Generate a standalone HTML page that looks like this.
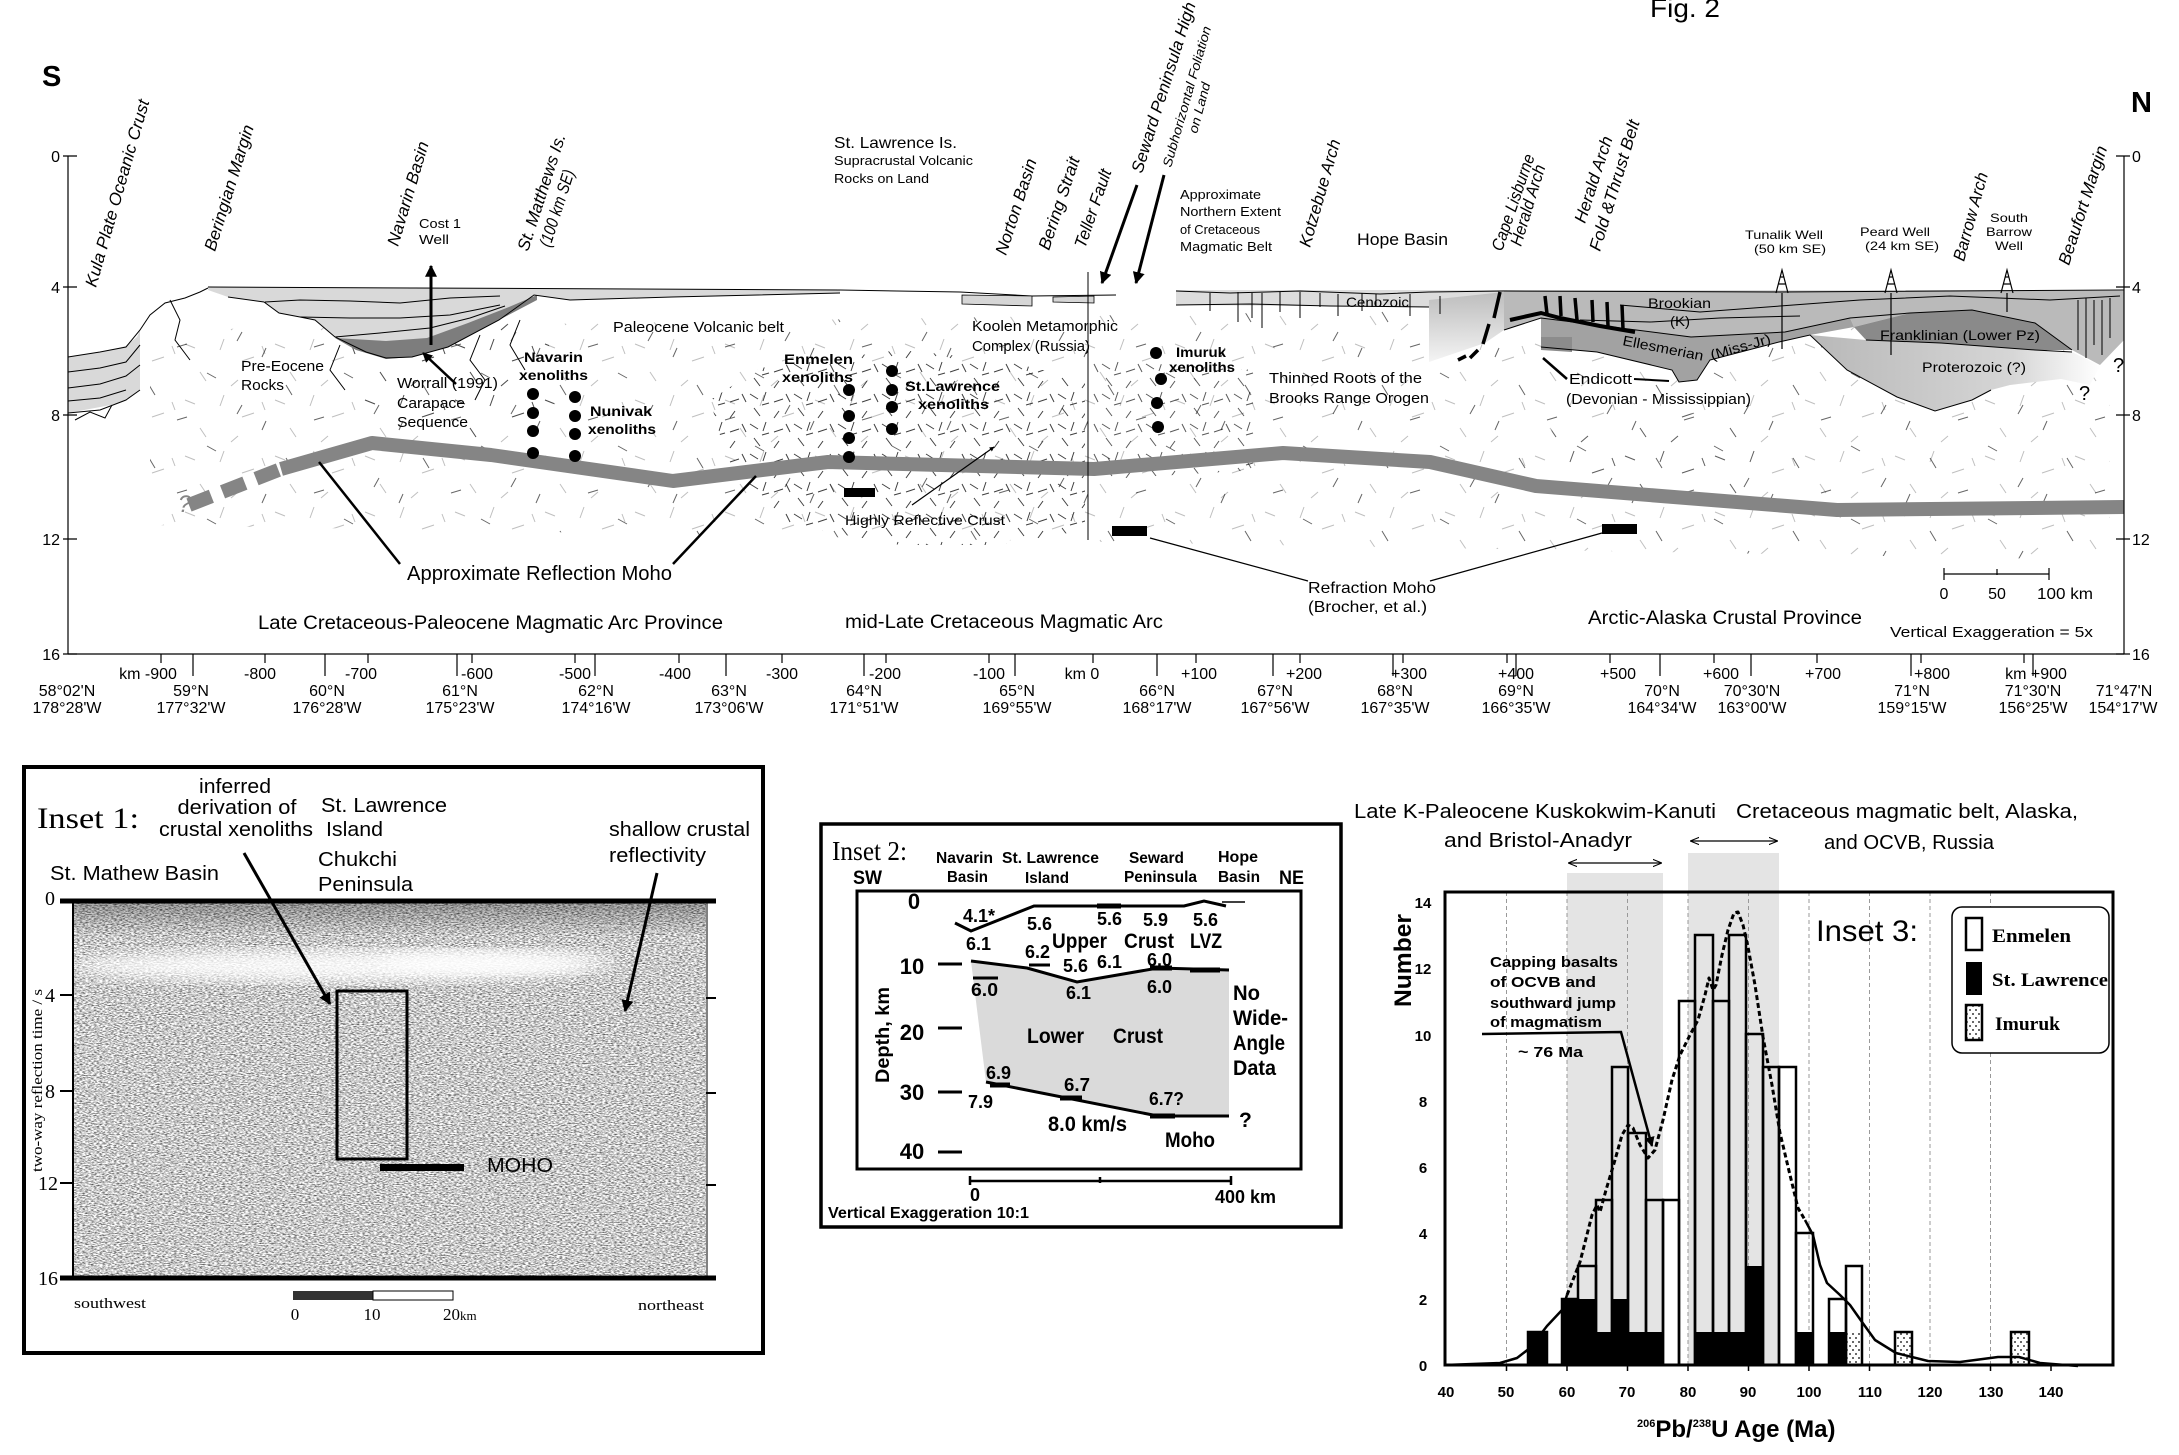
<!DOCTYPE html>
<html><head><meta charset="utf-8"><style>
html,body{margin:0;padding:0;background:#fff;}
svg{display:block;}
.s{font-family:"Liberation Sans",Arial,sans-serif;}
.r{font-family:"Liberation Serif","Times New Roman",serif;}
.b{font-weight:bold;}
.i{font-style:italic;}
</style></head><body>
<svg width="2179" height="1455" viewBox="0 0 2179 1455" xmlns="http://www.w3.org/2000/svg">
<defs>
<marker id="ah" viewBox="0 0 10 10" refX="9" refY="5" markerWidth="4" markerHeight="4" orient="auto"><path d="M0 0L10 5L0 10z" fill="#000"/></marker>
<marker id="oa" viewBox="0 0 10 10" refX="9" refY="5" markerWidth="9" markerHeight="9" markerUnits="userSpaceOnUse" orient="auto-start-reverse"><path d="M0 1L10 5L0 9" fill="none" stroke="#000" stroke-width="1.2"/></marker>
<pattern id="rd" width="44" height="30" patternUnits="userSpaceOnUse"><path d="M2 4l8 5M18 2l-3 9M26 12l9-3M6 18l6 8M31 21l-5 7M38 4l4 8M14 15l7-2" stroke="#000" stroke-width="1" fill="none"/></pattern>
<pattern id="rs" width="90" height="56" patternUnits="userSpaceOnUse"><path d="M5 8l10 4M44 3l-4 11M62 25l12-4M20 36l6 9M58 44l-7 6M82 10l3 8" stroke="#000" stroke-width="1" fill="none"/></pattern>
<pattern id="rs2" width="137" height="73" patternUnits="userSpaceOnUse"><path d="M12 20l6 10M70 8l9 5M105 40l-5 9M40 55l10-3M125 65l4-9" stroke="#000" stroke-width="1" fill="none"/></pattern>
<pattern id="dots" width="6" height="8" patternUnits="userSpaceOnUse"><rect width="6" height="8" fill="#fff"/><circle cx="2" cy="2" r="0.9" fill="#000"/><circle cx="5" cy="6" r="0.9" fill="#000"/></pattern>
<filter id="noise" x="0" y="0" width="1" height="1" color-interpolation-filters="sRGB">
<feTurbulence type="fractalNoise" baseFrequency="0.35 0.9" numOctaves="2" seed="7"/>
<feColorMatrix type="matrix" values="0 0 0 0 0.3  0 0 0 0 0.3  0 0 0 0 0.3  -2.2 0 0 0 1.4"/>
</filter>
<filter id="blur"><feGaussianBlur stdDeviation="8"/></filter>
<linearGradient id="hope" x1="0" y1="0" x2="0" y2="1"><stop offset="0" stop-color="#bdbdbd"/><stop offset="1" stop-color="#f4f4f4"/></linearGradient>
<linearGradient id="prot" x1="0" y1="0" x2="1" y2="0"><stop offset="0" stop-color="#b8b8b8"/><stop offset="0.7" stop-color="#d6d6d6"/><stop offset="1" stop-color="#ffffff"/></linearGradient>
<linearGradient id="topband" x1="0" y1="0" x2="0" y2="1"><stop offset="0" stop-color="#000" stop-opacity="0.3"/><stop offset="1" stop-color="#000" stop-opacity="0"/></linearGradient>
</defs>

<!-- ============ MAIN SECTION ============ -->
<text x="1650" y="17" class="s" font-size="26" textLength="70" lengthAdjust="spacingAndGlyphs">Fig. 2</text>
<text x="42" y="86" class="s b" font-size="29">S</text>
<text x="2131" y="112" class="s b" font-size="29">N</text>

<!-- reflection strokes texture -->
<path d="M150 330 L2110 300 L2110 560 L150 525 Z" fill="url(#rs2)" opacity="0.6"/>
<path d="M150 330 L2110 300 L2110 560 L150 525 Z" fill="url(#rs)" opacity="0.25"/>
<path d="M710 400 L760 368 L900 350 L1000 360 L1085 380 L1085 530 L1000 545 L900 545 L790 525 L730 470 Z" fill="url(#rd)" opacity="0.75"/>
<path d="M1092 360 L1255 370 L1258 470 L1092 480 Z" fill="url(#rd)" opacity="0.65"/>
<path d="M340 340 L540 300 L560 400 L480 450 L360 420 Z" fill="url(#rs)" opacity="0.6"/>
<path d="M1550 420 L1760 410 L1760 500 L1560 490 Z" fill="url(#rs)" opacity="0.5"/>

<!-- Kula oceanic crust -->
<polygon points="68,357 111,350 126,346 137,337 140,330 140,390 126,400 111,405 68,413" fill="#d9d9d9"/>
<g fill="none" stroke="#000" stroke-width="1">
<polyline points="68,357 100,352 126,347 140,330 150,315 165,303 185,298 200,292 208,288"/>
<polyline points="68,372 100,368 126,362 140,345"/>
<polyline points="68,388 100,384 126,376 140,365"/>
<polyline points="68,401 100,398 126,390"/>
<polyline points="68,413 100,410 126,400 140,390"/>
<polyline points="75,420 90,412 105,418 112,405"/>
</g>
<!-- shelf / Navarin basin -->
<polygon points="208,287 840,290 840,293 672,297 570,300 534,295 499,320 448,347 412,357 386,358 366,352 335,337 315,320 300,317 279,313 264,302 228,297 208,290" fill="#d9d9d9"/>
<polygon points="335,338 386,341 427,338 468,323 509,307 537,295 537,300 499,320 448,347 412,357 386,359 356,350" fill="#7d7d7d"/>
<g fill="none" stroke="#000" stroke-width="1">
<polyline points="208,287 840,290 960,292 1032,296 1116,295"/>
<polyline points="228,297 264,302 279,313 300,317 315,320 335,337 366,352 386,358 412,357 448,347 499,320 534,295 570,300 672,297 840,293"/>
<polyline points="265,302 300,300 350,301 400,303 450,298 500,296"/>
<polyline points="300,317 350,318 400,318 450,315 500,305"/>
<polyline points="335,337 380,333 430,328 470,318 505,306"/>
<polyline points="170,300 180,320 175,340 190,360"/>
<polyline points="340,345 330,370 345,390"/>
<polyline points="480,335 470,360 485,380 475,400"/>
<polyline points="520,320 510,345 525,370"/>
</g>
<!-- Norton / Bering basins -->
<polygon points="962,295 1032,296 1032,306 962,304" fill="#d6d6d6" stroke="#000" stroke-width="0.8"/>
<polygon points="1053,297 1094,296 1094,303 1053,302" fill="#d6d6d6" stroke="#000" stroke-width="0.8"/>

<!-- Right: Cenozoic band -->
<polygon points="1176,290 2124,290 2124,306 1429,307 1176,305" fill="#dcdcdc"/>
<polygon points="1429,300 1504,292 1504,330 1485,343 1429,362" fill="url(#hope)"/>
<polygon points="1504,291 2124,291 2124,340 2100,365 2072,350 2035,323 1972,310 1910,313 1854,327 1850,318 1785,332 1691,337 1597,325 1541,318 1504,330" fill="#bababa"/>
<polygon points="1541,318 1597,325 1691,337 1785,332 1850,318 1854,327 1810,335 1779,342 1710,360 1697,380 1679,382 1672,370 1597,352 1541,347" fill="#a2a2a2"/>
<polygon points="1541,337 1572,337 1572,352 1541,350" fill="#8c8c8c"/>
<polygon points="1810,335 1866,340 1941,343 2035,350 2072,352 2100,366 2090,385 2061,379 2010,385 1991,390 1972,400 1935,411 1897,397 1847,370" fill="url(#prot)"/>
<polygon points="1854,327 1910,313 1972,310 2035,323 2072,350 2035,350 1941,343 1866,340" fill="#8a8a8a"/>
<g fill="none" stroke="#000" stroke-width="1">
<polyline points="1176,291 1230,293 1300,291 1380,294 1429,292 1504,291 1780,292 2124,290"/>
<polyline points="1176,305 1250,304 1330,306 1429,307"/>
<polyline points="1504,330 1541,318 1597,325 1691,337 1785,332 1850,318 1910,313 1972,310 2035,323 2072,350"/>
<polyline points="1541,347 1597,352 1672,370 1679,382 1697,380 1710,360 1779,342 1810,335 1847,370 1897,397 1935,411 1972,400 1991,390"/>
<polyline points="1866,340 1941,343 2035,350 2072,352"/>
<polyline points="1620,305 1700,312 1780,306 1860,300 1950,296 2050,300 2120,296"/>
<polyline points="1580,320 1650,322 1720,318 1800,316"/>
<path d="M1210 293v18M1238 292v30M1252 293v25M1262 293v35M1280 292v20M1300 292v26M1320 293v14M1338 294v22M1362 293v18M1376 294v12M1410 294v22M1440 296v18"/>
<path d="M2078 300v50M2086 298v60M2094 300v45M2102 300v55M2110 298v40"/>
</g>
<!-- thrust belt -->
<polyline points="1510,320 1541,313 1560,318 1600,326 1635,332" fill="none" stroke="#000" stroke-width="4"/>
<path d="M1545 296l2 18M1560 296l1 20M1575 298l2 22M1592 300l1 22M1607 302l1 24M1622 305l1 24M1500 292l-6 26M1489 324l-6 20M1478 350l-8 8M1466 356l-8 4" stroke="#000" stroke-width="3.5" fill="none"/>
<!-- wells -->
<g fill="none" stroke="#000" stroke-width="1.2">
<path d="M1776 293L1782 270L1788 293M1778 284h8M1780 277h4M1782 293V349"/>
<path d="M1885 293L1891 270L1897 293M1887 284h8M1889 277h4M1891 293V355"/>
<path d="M2001 293L2007 270L2013 293M2003 284h8M2005 277h4M2007 293V312"/>
</g>

<!-- Moho band -->
<path d="M189 505 L281 469" stroke="#858585" stroke-width="14" stroke-dasharray="24 12" fill="none"/>
<polyline points="281,469 372,443 491,455 673,481 828,462 1094,469 1283,453 1430,462 1536,486 1837,510 2124,507" fill="none" stroke="#858585" stroke-width="14" stroke-linejoin="round"/>
<text x="178" y="512" class="s i" font-size="24" fill="#858585">?</text>

<!-- km 0 vertical line -->
<line x1="1088" y1="272" x2="1088" y2="540" stroke="#000" stroke-width="1"/>

<!-- xenolith dots -->
<g fill="#000">
<circle cx="533" cy="394" r="6"/><circle cx="533" cy="413" r="6"/><circle cx="533" cy="431" r="6"/><circle cx="533" cy="453" r="6"/>
<circle cx="575" cy="397" r="6"/><circle cx="575" cy="416" r="6"/><circle cx="575" cy="434" r="6"/><circle cx="575" cy="456" r="6"/>
<circle cx="849" cy="390" r="6"/><circle cx="849" cy="416" r="6"/><circle cx="849" cy="438" r="6"/><circle cx="849" cy="457" r="6"/>
<circle cx="892" cy="371" r="6"/><circle cx="892" cy="390" r="6"/><circle cx="892" cy="407" r="6"/><circle cx="892" cy="429" r="6"/>
<circle cx="1156" cy="353" r="6"/><circle cx="1161" cy="379" r="6"/><circle cx="1157" cy="403" r="6"/><circle cx="1158" cy="427" r="6"/>
</g>
<!-- black bars -->
<rect x="844" y="488" width="31" height="9" fill="#000"/>
<rect x="1112" y="526" width="35" height="10" fill="#000"/>
<rect x="1602" y="524" width="35" height="10" fill="#000"/>

<!-- leader lines / arrows -->
<g stroke="#000" fill="none">
<line x1="431" y1="345" x2="431" y2="266" stroke-width="3" marker-end="url(#ah)"/>
<line x1="456" y1="384" x2="423" y2="353" stroke-width="2.5" marker-end="url(#ah)"/>
<line x1="1137" y1="185" x2="1102" y2="283" stroke-width="3" marker-end="url(#ah)"/>
<line x1="1164" y1="175" x2="1136" y2="283" stroke-width="3" marker-end="url(#ah)"/>
<line x1="912" y1="505" x2="994" y2="447" stroke-width="1.2" marker-end="url(#ah)"/>
<line x1="319" y1="462" x2="400" y2="564" stroke-width="2.5"/>
<line x1="756" y1="476" x2="673" y2="564" stroke-width="2.5"/>
<line x1="1150" y1="538" x2="1308" y2="581" stroke-width="1.2"/>
<line x1="1602" y1="533" x2="1430" y2="581" stroke-width="1.2"/>
<line x1="1543" y1="358" x2="1567" y2="379" stroke-width="2.5"/>
<line x1="1634" y1="379" x2="1669" y2="381" stroke-width="2"/>
<path d="M1944 574H2049M1944 568v12M1997 569v6M2049 568v12" stroke-width="1.2"/>
</g>

<!-- rotated labels -->
<g class="s i" font-size="17">
<text transform="translate(96,288) rotate(-74)" textLength="194" lengthAdjust="spacingAndGlyphs">Kula Plate Oceanic Crust</text>
<text transform="translate(215,252) rotate(-72.7)" textLength="131" lengthAdjust="spacingAndGlyphs">Beringian Margin</text>
<text transform="translate(398,247) rotate(-73.4)" textLength="108" lengthAdjust="spacingAndGlyphs">Navarin Basin</text>
<text transform="translate(528,252) rotate(-72)" textLength="122" lengthAdjust="spacingAndGlyphs">St. Matthews Is.</text>
<text transform="translate(550,248) rotate(-72)" textLength="80" lengthAdjust="spacingAndGlyphs">(100 km SE)</text>
<text transform="translate(1006,256) rotate(-72)" textLength="100" lengthAdjust="spacingAndGlyphs">Norton Basin</text>
<text transform="translate(1049,251) rotate(-71.4)" textLength="97" lengthAdjust="spacingAndGlyphs">Bering Strait</text>
<text transform="translate(1085,249) rotate(-71)" textLength="82" lengthAdjust="spacingAndGlyphs">Teller Fault</text>
<text transform="translate(1142,174) rotate(-72.4)" textLength="178" lengthAdjust="spacingAndGlyphs">Seward Peninsula High</text>
<text transform="translate(1310,248) rotate(-74)" textLength="111" lengthAdjust="spacingAndGlyphs">Kotzebue Arch</text>
<text transform="translate(1502,252) rotate(-71)" textLength="101" lengthAdjust="spacingAndGlyphs">Cape Lisburne</text>
<text transform="translate(1521,247) rotate(-73)" textLength="84" lengthAdjust="spacingAndGlyphs">Herald Arch</text>
<text transform="translate(1585,224) rotate(-72)" textLength="90" lengthAdjust="spacingAndGlyphs">Herald Arch</text>
<text transform="translate(1600,252) rotate(-73)" textLength="136" lengthAdjust="spacingAndGlyphs">Fold &amp;Thrust Belt</text>
<text transform="translate(1964,262) rotate(-74.7)" textLength="91" lengthAdjust="spacingAndGlyphs">Barrow Arch</text>
<text transform="translate(2069,266) rotate(-72)" textLength="124" lengthAdjust="spacingAndGlyphs">Beaufort Margin</text>
</g>
<g class="s i" font-size="13">
<text transform="translate(1171,168) rotate(-74)" textLength="146" lengthAdjust="spacingAndGlyphs">Subhorizontal Foliation</text>
<text transform="translate(1197,134) rotate(-75)" textLength="52" lengthAdjust="spacingAndGlyphs">on Land</text>
</g>

<!-- horizontal labels -->
<g class="s" fill="#000">
<text x="834" y="148" font-size="16" textLength="123" lengthAdjust="spacingAndGlyphs">St. Lawrence Is.</text>
<text x="834" y="165" font-size="13" textLength="139" lengthAdjust="spacingAndGlyphs">Supracrustal Volcanic</text>
<text x="834" y="183" font-size="13" textLength="95" lengthAdjust="spacingAndGlyphs">Rocks on Land</text>
<text x="419" y="228" font-size="13" textLength="42" lengthAdjust="spacingAndGlyphs">Cost 1</text>
<text x="419" y="244" font-size="13" textLength="30" lengthAdjust="spacingAndGlyphs">Well</text>
<text x="1180" y="199" font-size="13" textLength="81" lengthAdjust="spacingAndGlyphs">Approximate</text>
<text x="1180" y="216" font-size="13" textLength="101" lengthAdjust="spacingAndGlyphs">Northern Extent</text>
<text x="1180" y="234" font-size="13" textLength="80" lengthAdjust="spacingAndGlyphs">of Cretaceous</text>
<text x="1180" y="251" font-size="13" textLength="92" lengthAdjust="spacingAndGlyphs">Magmatic Belt</text>
<text x="1357" y="245" font-size="17" textLength="91" lengthAdjust="spacingAndGlyphs">Hope Basin</text>
<text x="1745" y="239" font-size="12" textLength="78" lengthAdjust="spacingAndGlyphs">Tunalik Well</text>
<text x="1754" y="253" font-size="12" textLength="72" lengthAdjust="spacingAndGlyphs">(50 km SE)</text>
<text x="1860" y="236" font-size="12" textLength="70" lengthAdjust="spacingAndGlyphs">Peard Well</text>
<text x="1865" y="250" font-size="12" textLength="74" lengthAdjust="spacingAndGlyphs">(24 km SE)</text>
<text x="1990" y="222" font-size="12" textLength="38" lengthAdjust="spacingAndGlyphs">South</text>
<text x="1986" y="236" font-size="12" textLength="46" lengthAdjust="spacingAndGlyphs">Barrow</text>
<text x="1995" y="250" font-size="12" textLength="28" lengthAdjust="spacingAndGlyphs">Well</text>
<text x="1346" y="307" font-size="14" textLength="63" lengthAdjust="spacingAndGlyphs">Cenozoic</text>
<text x="1648" y="308" font-size="14" textLength="63" lengthAdjust="spacingAndGlyphs">Brookian</text>
<text x="1670" y="326" font-size="14" textLength="20" lengthAdjust="spacingAndGlyphs">(K)</text>
<text transform="translate(1622,345) rotate(11)" font-size="14" textLength="82" lengthAdjust="spacingAndGlyphs">Ellesmerian</text>
<text transform="translate(1712,360) rotate(-16)" font-size="14" textLength="62" lengthAdjust="spacingAndGlyphs">(Miss-Jr)</text>
<text x="1880" y="340" font-size="14" textLength="160" lengthAdjust="spacingAndGlyphs">Franklinian (Lower Pz)</text>
<text x="1922" y="372" font-size="14" textLength="104" lengthAdjust="spacingAndGlyphs">Proterozoic (?)</text>
<text x="2113" y="372" font-size="20">?</text>
<text x="2079" y="400" font-size="20">?</text>
<text x="1569" y="384" font-size="15" textLength="63" lengthAdjust="spacingAndGlyphs">Endicott</text>
<text x="1566" y="404" font-size="15" textLength="185" lengthAdjust="spacingAndGlyphs">(Devonian - Mississippian)</text>
<text x="1269" y="383" font-size="15" textLength="153" lengthAdjust="spacingAndGlyphs">Thinned Roots of the</text>
<text x="1269" y="403" font-size="15" textLength="160" lengthAdjust="spacingAndGlyphs">Brooks Range Orogen</text>
<text x="1176" y="357" font-size="14" class="b" textLength="50" lengthAdjust="spacingAndGlyphs">Imuruk</text>
<text x="1169" y="372" font-size="14" class="b" textLength="66" lengthAdjust="spacingAndGlyphs">xenoliths</text>
<text x="241" y="371" font-size="15" textLength="83" lengthAdjust="spacingAndGlyphs">Pre-Eocene</text>
<text x="241" y="390" font-size="15" textLength="43" lengthAdjust="spacingAndGlyphs">Rocks</text>
<text x="397" y="388" font-size="15" textLength="101" lengthAdjust="spacingAndGlyphs">Worrall (1991)</text>
<text x="397" y="408" font-size="15" textLength="68" lengthAdjust="spacingAndGlyphs">Carapace</text>
<text x="397" y="427" font-size="15" textLength="71" lengthAdjust="spacingAndGlyphs">Sequence</text>
<text x="524" y="362" font-size="14" class="b" textLength="59" lengthAdjust="spacingAndGlyphs">Navarin</text>
<text x="519" y="380" font-size="14" class="b" textLength="69" lengthAdjust="spacingAndGlyphs">xenoliths</text>
<text x="590" y="416" font-size="14" class="b" textLength="62" lengthAdjust="spacingAndGlyphs">Nunivak</text>
<text x="588" y="434" font-size="14" class="b" textLength="68" lengthAdjust="spacingAndGlyphs">xenoliths</text>
<text x="613" y="332" font-size="15" textLength="171" lengthAdjust="spacingAndGlyphs">Paleocene Volcanic belt</text>
<text x="784" y="364" font-size="14" class="b" textLength="69" lengthAdjust="spacingAndGlyphs">Enmelen</text>
<text x="782" y="382" font-size="14" class="b" textLength="71" lengthAdjust="spacingAndGlyphs">xenoliths</text>
<text x="905" y="391" font-size="14" class="b" textLength="95" lengthAdjust="spacingAndGlyphs">St.Lawrence</text>
<text x="918" y="409" font-size="14" class="b" textLength="71" lengthAdjust="spacingAndGlyphs">xenoliths</text>
<text x="972" y="331" font-size="15" textLength="146" lengthAdjust="spacingAndGlyphs">Koolen Metamorphic</text>
<text x="972" y="351" font-size="15" textLength="118" lengthAdjust="spacingAndGlyphs">Complex (Russia)</text>
<text x="845" y="525" font-size="14" textLength="160" lengthAdjust="spacingAndGlyphs">Highly Reflective Crust</text>
<text x="407" y="580" font-size="20" textLength="265" lengthAdjust="spacingAndGlyphs">Approximate Reflection Moho</text>
<text x="258" y="629" font-size="19" textLength="465" lengthAdjust="spacingAndGlyphs">Late Cretaceous-Paleocene Magmatic Arc Province</text>
<text x="845" y="628" font-size="19" textLength="318" lengthAdjust="spacingAndGlyphs">mid-Late Cretaceous Magmatic Arc</text>
<text x="1308" y="593" font-size="16" textLength="128" lengthAdjust="spacingAndGlyphs">Refraction Moho</text>
<text x="1308" y="612" font-size="16" textLength="119" lengthAdjust="spacingAndGlyphs">(Brocher, et al.)</text>
<text x="1588" y="624" font-size="19" textLength="274" lengthAdjust="spacingAndGlyphs">Arctic-Alaska Crustal Province</text>
<text x="1890" y="637" font-size="15" textLength="203" lengthAdjust="spacingAndGlyphs">Vertical Exaggeration = 5x</text>
<text x="1944" y="599" font-size="16" text-anchor="middle">0</text>
<text x="1997" y="599" font-size="16" text-anchor="middle">50</text>
<text x="2037" y="599" font-size="16" textLength="56" lengthAdjust="spacingAndGlyphs">100 km</text>
</g>

<!-- axes -->
<g stroke="#000" stroke-width="1.2" fill="none">
<line x1="68" y1="156" x2="68" y2="654"/>
<line x1="2124" y1="156" x2="2124" y2="654"/>
<line x1="68" y1="654" x2="2124" y2="654"/>
<path d="M63 156h14M63 287h14M63 415h14M63 539h14M63 654h14"/>
<path d="M2116 156h14M2116 287h14M2116 415h14M2116 539h14M2116 654h14"/>
<path d="M193 654v22M325 654v22M457 654v22M595 654v22M726 654v22M864 654v22M1015 654v22M1157 654v22M1273 654v22M1393 654v22M1516 654v22M1660 654v22M1751 654v22M1911 654v22M2033 654v22"/>
<path d="M161 654v9M265 654v9M368 654v9M472 654v9M575 654v9M679 654v9M782 654v9M886 654v9M989 654v9M1093 654v9M1196 654v9M1300 654v9M1403 654v9M1507 654v9M1610 654v9M1714 654v9M1817 654v9M1921 654v9M2024 654v9"/>
</g>
<g class="s" font-size="16" text-anchor="end">
<text x="60" y="162">0</text><text x="60" y="293">4</text><text x="60" y="421">8</text><text x="60" y="545">12</text><text x="60" y="660">16</text>
</g>
<g class="s" font-size="16">
<text x="2132" y="162">0</text><text x="2132" y="293">4</text><text x="2132" y="421">8</text><text x="2132" y="545">12</text><text x="2132" y="660">16</text>
</g>
<g class="s" font-size="16" text-anchor="middle">
<text x="148" y="679">km -900</text><text x="260" y="679">-800</text><text x="361" y="679">-700</text><text x="477" y="679">-600</text><text x="575" y="679">-500</text><text x="675" y="679">-400</text><text x="782" y="679">-300</text><text x="885" y="679">-200</text><text x="989" y="679">-100</text><text x="1082" y="679">km 0</text><text x="1199" y="679">+100</text><text x="1304" y="679">+200</text><text x="1409" y="679">+300</text><text x="1516" y="679">+400</text><text x="1618" y="679">+500</text><text x="1721" y="679">+600</text><text x="1823" y="679">+700</text><text x="1932" y="679">+800</text><text x="2036" y="679">km +900</text>
</g>
<g class="s" font-size="16" text-anchor="middle">
<text x="67" y="696">58°02'N</text><text x="67" y="713">178°28'W</text>
<text x="191" y="696">59°N</text><text x="191" y="713">177°32'W</text>
<text x="327" y="696">60°N</text><text x="327" y="713">176°28'W</text>
<text x="460" y="696">61°N</text><text x="460" y="713">175°23'W</text>
<text x="596" y="696">62°N</text><text x="596" y="713">174°16'W</text>
<text x="729" y="696">63°N</text><text x="729" y="713">173°06'W</text>
<text x="864" y="696">64°N</text><text x="864" y="713">171°51'W</text>
<text x="1017" y="696">65°N</text><text x="1017" y="713">169°55'W</text>
<text x="1157" y="696">66°N</text><text x="1157" y="713">168°17'W</text>
<text x="1275" y="696">67°N</text><text x="1275" y="713">167°56'W</text>
<text x="1395" y="696">68°N</text><text x="1395" y="713">167°35'W</text>
<text x="1516" y="696">69°N</text><text x="1516" y="713">166°35'W</text>
<text x="1662" y="696">70°N</text><text x="1662" y="713">164°34'W</text>
<text x="1752" y="696">70°30'N</text><text x="1752" y="713">163°00'W</text>
<text x="1912" y="696">71°N</text><text x="1912" y="713">159°15'W</text>
<text x="2033" y="696">71°30'N</text><text x="2033" y="713">156°25'W</text>
<text x="2124" y="696">71°47'N</text><text x="2123" y="713">154°17'W</text>
</g>

<!-- ============ INSET 1 ============ -->
<rect x="24" y="767" width="739" height="586" fill="none" stroke="#000" stroke-width="4"/>
<rect x="74" y="903" width="632" height="373" fill="#fff"/>
<rect x="74" y="903" width="632" height="373" filter="url(#noise)"/>
<rect x="74" y="903" width="632" height="34" fill="url(#topband)"/>
<ellipse cx="330" cy="966" rx="260" ry="16" fill="#fff" opacity="0.85" filter="url(#blur)"/>
<ellipse cx="500" cy="962" rx="120" ry="12" fill="#fff" opacity="0.75" filter="url(#blur)"/>
<g stroke="#000" fill="none">
<line x1="60" y1="901" x2="716" y2="901" stroke-width="5"/>
<line x1="60" y1="1278" x2="716" y2="1278" stroke-width="5"/>
<line x1="73" y1="901" x2="73" y2="1278" stroke-width="2"/>
<line x1="707" y1="901" x2="707" y2="1278" stroke-width="1"/>
<path d="M60 995h13M60 1091h13M60 1183h13" stroke-width="2"/>
<path d="M706 998h10M706 1093h10M706 1185h10" stroke-width="2"/>
<rect x="337" y="991" width="70" height="168" stroke-width="3"/>
<line x1="244" y1="853" x2="330" y2="1004" stroke-width="3" marker-end="url(#ah)"/>
<line x1="657" y1="873" x2="625" y2="1011" stroke-width="3" marker-end="url(#ah)"/>
</g>
<rect x="380" y="1164" width="84" height="7" fill="#000"/>
<rect x="293" y="1291" width="80" height="9" fill="#333"/>
<rect x="373" y="1291" width="80" height="9" fill="#fff" stroke="#000" stroke-width="1"/>
<g class="r">
<text x="37" y="828" font-size="30" textLength="102" lengthAdjust="spacingAndGlyphs">Inset 1:</text>
<g font-size="20" text-anchor="middle"><text x="50" y="905">0</text><text x="50" y="1002">4</text><text x="50" y="1098">8</text><text x="48" y="1190">12</text><text x="48" y="1285">16</text></g>
<text transform="translate(42,1172) rotate(-90)" font-size="15" textLength="183" lengthAdjust="spacingAndGlyphs">two-way reflection time / s</text>
<text x="74" y="1308" font-size="15" textLength="72" lengthAdjust="spacingAndGlyphs">southwest</text>
<text x="638" y="1310" font-size="15" textLength="66" lengthAdjust="spacingAndGlyphs">northeast</text>
<text x="295" y="1320" font-size="17" text-anchor="middle">0</text>
<text x="372" y="1320" font-size="17" text-anchor="middle">10</text>
<text x="443" y="1320" font-size="17">20<tspan font-size="13">km</tspan></text>
</g>
<g class="s">
<text x="235" y="793" font-size="20" text-anchor="middle" textLength="72" lengthAdjust="spacingAndGlyphs">inferred</text>
<text x="237" y="814" font-size="20" text-anchor="middle" textLength="119" lengthAdjust="spacingAndGlyphs">derivation of</text>
<text x="236" y="836" font-size="20" text-anchor="middle" textLength="154" lengthAdjust="spacingAndGlyphs">crustal xenoliths</text>
<text x="321" y="812" font-size="20" textLength="126" lengthAdjust="spacingAndGlyphs">St. Lawrence</text>
<text x="326" y="836" font-size="20" textLength="57" lengthAdjust="spacingAndGlyphs">Island</text>
<text x="318" y="866" font-size="20" textLength="79" lengthAdjust="spacingAndGlyphs">Chukchi</text>
<text x="318" y="891" font-size="20" textLength="95" lengthAdjust="spacingAndGlyphs">Peninsula</text>
<text x="50" y="880" font-size="20" textLength="169" lengthAdjust="spacingAndGlyphs">St. Mathew Basin</text>
<text x="609" y="836" font-size="20" textLength="141" lengthAdjust="spacingAndGlyphs">shallow crustal</text>
<text x="609" y="862" font-size="20" textLength="97" lengthAdjust="spacingAndGlyphs">reflectivity</text>
<text x="487" y="1172" font-size="20" textLength="66" lengthAdjust="spacingAndGlyphs">MOHO</text>
</g>

<!-- ============ INSET 2 ============ -->
<rect x="821" y="824" width="520" height="403" fill="none" stroke="#000" stroke-width="3.5"/>
<rect x="857" y="891" width="444" height="278" fill="none" stroke="#000" stroke-width="3"/>
<polygon points="971,961 1027,968 1077,982 1158,968 1229,970 1229,1116 1158,1116 986,1082" fill="#dadada"/>
<g stroke="#000" fill="none" stroke-width="3">
<polyline points="955,923 971,931 1034,906 1184,906 1204,901 1226,906"/>
<line x1="1222" y1="902" x2="1245" y2="902" stroke-width="1.5"/>
<polyline points="971,961 1027,968 1077,982 1158,968 1229,970"/>
<polyline points="986,1082 1158,1116 1229,1116"/>
<line x1="973" y1="978" x2="998" y2="978"/>
<line x1="1029" y1="965" x2="1050" y2="965"/>
<path d="M1097 906h24M1150 968h22M1190 970h30M990 1085h20M1060 1098h22M1150 1116h25" stroke-width="5"/>
<path d="M938 964h24M938 1028h24M938 1092h24M938 1152h24"/>
<path d="M970 1181H1231M970 1176v9M1100 1177v6M1231 1176v9" stroke-width="2.5"/>
</g>
<g class="s b">
<text x="914" y="909" font-size="22" text-anchor="middle">0</text>
<text x="912" y="974" font-size="22" text-anchor="middle">10</text>
<text x="912" y="1040" font-size="22" text-anchor="middle">20</text>
<text x="912" y="1100" font-size="22" text-anchor="middle">30</text>
<text x="912" y="1159" font-size="22" text-anchor="middle">40</text>
<text transform="translate(889,1083) rotate(-90)" font-size="19" textLength="96" lengthAdjust="spacingAndGlyphs">Depth, km</text>
<text x="853" y="884" font-size="19" textLength="29" lengthAdjust="spacingAndGlyphs">SW</text>
<text x="1279" y="884" font-size="19" textLength="25" lengthAdjust="spacingAndGlyphs">NE</text>
<g font-size="16">
<text x="936" y="863" textLength="57" lengthAdjust="spacingAndGlyphs">Navarin</text>
<text x="947" y="882" textLength="41" lengthAdjust="spacingAndGlyphs">Basin</text>
<text x="1002" y="863" textLength="97" lengthAdjust="spacingAndGlyphs">St. Lawrence</text>
<text x="1025" y="883" textLength="44" lengthAdjust="spacingAndGlyphs">Island</text>
<text x="1129" y="863" textLength="55" lengthAdjust="spacingAndGlyphs">Seward</text>
<text x="1124" y="882" textLength="73" lengthAdjust="spacingAndGlyphs">Peninsula</text>
<text x="1218" y="862" textLength="40" lengthAdjust="spacingAndGlyphs">Hope</text>
<text x="1218" y="882" textLength="42" lengthAdjust="spacingAndGlyphs">Basin</text>
</g>
<g font-size="18">
<text x="963" y="922" textLength="32" lengthAdjust="spacingAndGlyphs">4.1*</text>
<text x="1027" y="930" textLength="25" lengthAdjust="spacingAndGlyphs">5.6</text>
<text x="1097" y="925" textLength="25" lengthAdjust="spacingAndGlyphs">5.6</text>
<text x="1143" y="926" textLength="25" lengthAdjust="spacingAndGlyphs">5.9</text>
<text x="1193" y="926" textLength="25" lengthAdjust="spacingAndGlyphs">5.6</text>
<text x="966" y="950" textLength="25" lengthAdjust="spacingAndGlyphs">6.1</text>
<text x="1025" y="958" textLength="25" lengthAdjust="spacingAndGlyphs">6.2</text>
<text x="1063" y="972" textLength="25" lengthAdjust="spacingAndGlyphs">5.6</text>
<text x="1097" y="968" textLength="25" lengthAdjust="spacingAndGlyphs">6.1</text>
<text x="1147" y="966" textLength="25" lengthAdjust="spacingAndGlyphs">6.0</text>
<text x="971" y="996" textLength="27" lengthAdjust="spacingAndGlyphs">6.0</text>
<text x="1066" y="999" textLength="25" lengthAdjust="spacingAndGlyphs">6.1</text>
<text x="1147" y="993" textLength="25" lengthAdjust="spacingAndGlyphs">6.0</text>
<text x="986" y="1079" textLength="25" lengthAdjust="spacingAndGlyphs">6.9</text>
<text x="1064" y="1091" textLength="26" lengthAdjust="spacingAndGlyphs">6.7</text>
<text x="968" y="1108" textLength="25" lengthAdjust="spacingAndGlyphs">7.9</text>
<text x="1149" y="1105" textLength="35" lengthAdjust="spacingAndGlyphs">6.7?</text>
</g>
<g font-size="21">
<text x="1052" y="948" textLength="55" lengthAdjust="spacingAndGlyphs">Upper</text>
<text x="1124" y="948" textLength="50" lengthAdjust="spacingAndGlyphs">Crust</text>
<text x="1190" y="948" textLength="32" lengthAdjust="spacingAndGlyphs">LVZ</text>
<text x="1027" y="1043" textLength="57" lengthAdjust="spacingAndGlyphs">Lower</text>
<text x="1113" y="1043" textLength="50" lengthAdjust="spacingAndGlyphs">Crust</text>
<text x="1233" y="1000" textLength="27" lengthAdjust="spacingAndGlyphs">No</text>
<text x="1233" y="1025" textLength="55" lengthAdjust="spacingAndGlyphs">Wide-</text>
<text x="1233" y="1050" textLength="52" lengthAdjust="spacingAndGlyphs">Angle</text>
<text x="1233" y="1075" textLength="43" lengthAdjust="spacingAndGlyphs">Data</text>
<text x="1048" y="1131" textLength="79" lengthAdjust="spacingAndGlyphs">8.0 km/s</text>
<text x="1165" y="1147" textLength="50" lengthAdjust="spacingAndGlyphs">Moho</text>
<text x="1239" y="1127">?</text>
</g>
<text x="975" y="1201" font-size="18" text-anchor="middle">0</text>
<text x="1215" y="1203" font-size="18" textLength="61" lengthAdjust="spacingAndGlyphs">400 km</text>
<text x="828" y="1218" font-size="16" textLength="201" lengthAdjust="spacingAndGlyphs">Vertical Exaggeration 10:1</text>
</g>
<text x="832" y="860" class="r" font-size="27" textLength="75" lengthAdjust="spacingAndGlyphs">Inset 2:</text>

<!-- ============ INSET 3 ============ -->
<rect x="1567" y="873" width="96" height="492" fill="#e4e4e4"/>
<rect x="1688" y="853" width="91" height="512" fill="#e4e4e4"/>
<g stroke="#999" stroke-width="1" stroke-dasharray="4 3">
<path d="M1506.5 892V1365M1567 892V1365M1627.5 892V1365M1688 892V1365M1748.5 892V1365M1809 892V1365M1869.5 892V1365M1930 892V1365M1990.5 892V1365"/>
</g>
<g fill="#000">
<rect x="1528" y="1332" width="19" height="33"/>
<rect x="1562" y="1299" width="16" height="66"/>
<rect x="1578" y="1299" width="18" height="66"/>
<rect x="1596" y="1332" width="16" height="33"/>
<rect x="1612" y="1299" width="16" height="66"/>
<rect x="1628" y="1332" width="18" height="33"/>
<rect x="1646" y="1332" width="17" height="33"/>
<rect x="1695" y="1332" width="18" height="33"/>
<rect x="1713" y="1332" width="16" height="33"/>
<rect x="1729" y="1332" width="17" height="33"/>
<rect x="1746" y="1266" width="17" height="99"/>
<rect x="1796" y="1332" width="17" height="33"/>
<rect x="1829" y="1332" width="17" height="33"/>
</g>
<rect x="1846" y="1332" width="16" height="33" fill="url(#dots)"/>
<rect x="1895" y="1332" width="17" height="33" fill="url(#dots)"/>
<rect x="2011" y="1332" width="18" height="33" fill="url(#dots)"/>
<g fill="none" stroke="#000" stroke-width="2.5">
<rect x="1528" y="1332" width="19" height="33"/>
<rect x="1562" y="1299" width="16" height="66"/>
<rect x="1578" y="1266" width="18" height="99"/>
<rect x="1596" y="1200" width="16" height="165"/>
<rect x="1612" y="1067" width="16" height="298"/>
<rect x="1628" y="1133" width="18" height="232"/>
<rect x="1646" y="1200" width="17" height="165"/>
<rect x="1663" y="1200" width="16" height="165"/>
<rect x="1679" y="1001" width="16" height="364"/>
<rect x="1695" y="935" width="18" height="430"/>
<rect x="1713" y="1001" width="16" height="364"/>
<rect x="1729" y="935" width="17" height="430"/>
<rect x="1746" y="1034" width="17" height="331"/>
<rect x="1763" y="1067" width="16" height="298"/>
<rect x="1779" y="1067" width="17" height="298"/>
<rect x="1796" y="1233" width="17" height="132"/>
<rect x="1829" y="1299" width="17" height="66"/>
<rect x="1846" y="1266" width="16" height="99"/>
<rect x="1895" y="1332" width="17" height="33"/>
<rect x="2011" y="1332" width="18" height="33"/>
</g>
<polyline points="1567,1295 1580,1262 1592,1215 1597,1205 1600,1212 1606,1190 1615,1160 1622,1135 1628,1125 1633,1128 1640,1145 1648,1158 1655,1150 1663,1120 1672,1080 1680,1055 1690,1035 1698,1020 1705,995 1709,978 1713,990 1716,985 1722,955 1728,930 1734,913 1738,912 1743,925 1748,947 1755,985 1763,1037 1772,1085 1780,1133 1790,1175 1798,1208 1805,1220" fill="none" stroke="#000" stroke-width="3" stroke-dasharray="5 3" stroke-linejoin="round"/>
<polyline points="1445,1365 1500,1363 1517,1358 1530,1348 1547,1326 1562,1310 1567,1295" fill="none" stroke="#000" stroke-width="2.5" stroke-linejoin="round"/>
<polyline points="1805,1220 1813,1235 1820,1265 1827,1283 1840,1295 1850,1305 1862,1322 1875,1340 1896,1353 1928,1361 1960,1362 1998,1357 2019,1357 2040,1363 2078,1366" fill="none" stroke="#000" stroke-width="2.5" stroke-linejoin="round"/>
<polyline points="1482,1034 1621,1032 1652,1146" fill="none" stroke="#000" stroke-width="2.5" marker-end="url(#ah)"/>
<rect x="1445" y="892" width="668" height="473" fill="none" stroke="#000" stroke-width="3"/>
<path d="M1506.5 1365v6M1567 1365v6M1627.5 1365v6M1688 1365v6M1748.5 1365v6M1809 1365v6M1869.5 1365v6M1930 1365v6M1990.5 1365v6M2051 1365v6" stroke="#000" stroke-width="1.5"/>
<line x1="1569" y1="863" x2="1661" y2="863" stroke="#000" stroke-width="1.2" marker-start="url(#oa)" marker-end="url(#oa)"/>
<line x1="1691" y1="841" x2="1777" y2="841" stroke="#000" stroke-width="1.2" marker-start="url(#oa)" marker-end="url(#oa)"/>
<rect x="1952" y="907" width="157" height="146" rx="10" fill="#fff" stroke="#000" stroke-width="1.5"/>
<rect x="1966" y="918" width="16" height="32" fill="#fff" stroke="#000" stroke-width="2.5"/>
<rect x="1966" y="962" width="16" height="33" fill="#000"/>
<rect x="1966" y="1005" width="16" height="35" fill="url(#dots)" stroke="#000" stroke-width="2.5"/>
<g class="r b" font-size="19">
<text x="1992" y="942" textLength="79" lengthAdjust="spacingAndGlyphs">Enmelen</text>
<text x="1992" y="986" textLength="116" lengthAdjust="spacingAndGlyphs">St. Lawrence</text>
<text x="1995" y="1030" textLength="65" lengthAdjust="spacingAndGlyphs">Imuruk</text>
</g>
<g class="s">
<text x="1535" y="818" font-size="20" text-anchor="middle" textLength="362" lengthAdjust="spacingAndGlyphs">Late K-Paleocene Kuskokwim-Kanuti</text>
<text x="1538" y="847" font-size="20" text-anchor="middle" textLength="188" lengthAdjust="spacingAndGlyphs">and Bristol-Anadyr</text>
<text x="1907" y="818" font-size="20" text-anchor="middle" textLength="342" lengthAdjust="spacingAndGlyphs">Cretaceous magmatic belt, Alaska,</text>
<text x="1909" y="849" font-size="20" text-anchor="middle" textLength="170" lengthAdjust="spacingAndGlyphs">and OCVB, Russia</text>
<text x="1816" y="941" font-size="30" textLength="102" lengthAdjust="spacingAndGlyphs">Inset 3:</text>
<g class="b" font-size="15">
<text x="1490" y="967" textLength="128" lengthAdjust="spacingAndGlyphs">Capping basalts</text>
<text x="1490" y="987" textLength="106" lengthAdjust="spacingAndGlyphs">of OCVB and</text>
<text x="1490" y="1008" textLength="126" lengthAdjust="spacingAndGlyphs">southward jump</text>
<text x="1490" y="1027" textLength="112" lengthAdjust="spacingAndGlyphs">of magmatism</text>
<text x="1518" y="1057" textLength="65" lengthAdjust="spacingAndGlyphs">~ 76 Ma</text>
</g>
<g class="b" font-size="15" text-anchor="middle">
<text x="1423" y="1371">0</text><text x="1423" y="1305">2</text><text x="1423" y="1239">4</text><text x="1423" y="1173">6</text><text x="1423" y="1107">8</text><text x="1423" y="1041">10</text><text x="1423" y="974">12</text><text x="1423" y="908">14</text>
<text x="1446" y="1397">40</text><text x="1506" y="1397">50</text><text x="1567" y="1397">60</text><text x="1627" y="1397">70</text><text x="1688" y="1397">80</text><text x="1748" y="1397">90</text><text x="1809" y="1397">100</text><text x="1870" y="1397">110</text><text x="1930" y="1397">120</text><text x="1991" y="1397">130</text><text x="2051" y="1397">140</text>
</g>
<text transform="translate(1411,1007) rotate(-90)" class="b" font-size="24" textLength="93" lengthAdjust="spacingAndGlyphs">Number</text>
<text x="1637" y="1437" class="b" font-size="24"><tspan font-size="11" dy="-10">206</tspan><tspan dy="10">Pb/</tspan><tspan font-size="11" dy="-10">238</tspan><tspan dy="10">U Age (Ma)</tspan></text>
</g>
</svg>
</body></html>
